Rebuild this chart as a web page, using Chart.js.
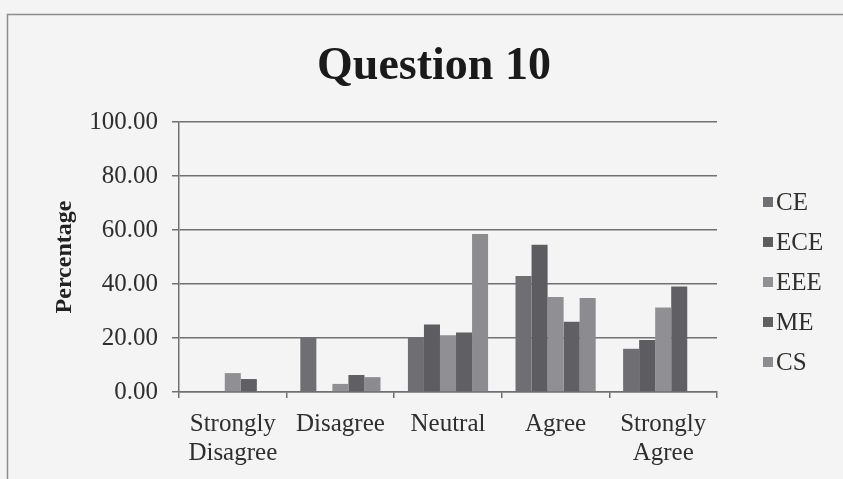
<!DOCTYPE html>
<html><head><meta charset="utf-8">
<script src="https://cdn.jsdelivr.net/npm/chart.js@4.4.1/dist/chart.umd.min.js"></script>
<style>html,body{margin:0;padding:0;background:#f4f4f5;overflow:hidden}</style>
</head><body><canvas id="c" width="843" height="479"></canvas>
<script>
const chartTitle = 'Question 10';
const yAxisTitle = 'Percentage';
const categories = [['Strongly', 'Disagree'], 'Disagree', 'Neutral', 'Agree', ['Strongly', 'Agree']];
const seriesNames = ['CE', 'ECE', 'EEE', 'ME', 'CS'];
const ceValues  = [0, 20, 20, 43, 16];
const eceValues = [0, 0, 25, 54.5, 19.3];
const eeeValues = [7, 3, 21, 35.2, 31.3];
const meValues  = [4.8, 6.3, 22, 26, 39.1];
const csValues  = [0, 5.5, 58.5, 34.8, 0];
const yTicks = [0, 20, 40, 60, 80, 100];

const seriesValues = [ceValues, eceValues, eeeValues, meValues, csValues];
const seriesColors = ['#6e6e73', '#5c5c61', '#8f8f94', '#5f5f64', '#8b8b90'];
const FONT = '"Liberation Serif", "Times New Roman", serif';

const decor = {
  id: 'decor',
  beforeDraw(chart) {
    const ctx = chart.ctx;
    ctx.save();
    ctx.fillStyle = '#f4f4f5';
    ctx.fillRect(0, 0, chart.width, chart.height);
    ctx.strokeStyle = '#8c8c8c';
    ctx.lineWidth = 1.5;
    ctx.strokeRect(7.5, 14.5, 900, 600);
    ctx.restore();
  },
  afterDraw(chart) {
    const ctx = chart.ctx;
    ctx.save();
    ctx.fillStyle = '#1a1a1a';
    ctx.font = 'bold 46px ' + FONT;
    ctx.textAlign = 'center';
    ctx.textBaseline = 'alphabetic';
    ctx.fillText(chartTitle, 434, 79);
    // legend
    ctx.font = '25px ' + FONT;
    ctx.textAlign = 'left';
    ctx.textBaseline = 'middle';
    chart.data.datasets.forEach((ds, i) => {
      const y = 202 + i * 40;
      ctx.fillStyle = ds.backgroundColor;
      ctx.fillRect(763, y - 5, 10, 10);
      ctx.fillStyle = '#2e2e2e';
      ctx.fillText(ds.label, 776, y + 1);
    });
    ctx.restore();
  }
};

new Chart(document.getElementById('c'), {
  type: 'bar',
  data: {
    labels: categories,
    datasets: seriesNames.map((n, i) => ({
      label: n,
      data: seriesValues[i],
      backgroundColor: seriesColors[i],
      borderWidth: 0,
      barPercentage: 1,
      categoryPercentage: 0.745
    }))
  },
  options: {
    responsive: false,
    animation: false,
    devicePixelRatio: 1,
    layout: { padding: { left: 0, right: 126, top: 122, bottom: 0 } },
    plugins: { legend: { display: false }, title: { display: false }, tooltip: { enabled: false } },
    scales: {
      x: {
        grid: { display: true, drawOnChartArea: false, drawTicks: true, tickLength: 6, color: '#707070', lineWidth: 1.5, offset: true },
        border: { display: true, color: '#707070', width: 1.5 },
        ticks: { font: { family: FONT, size: 25, lineHeight: 1.15 }, color: '#2e2e2e', padding: 12, maxRotation: 0, autoSkip: false },
        afterFit(s) { s.height = 87; }
      },
      y: {
        min: 0, max: 100,
        afterBuildTicks(s) { s.ticks = yTicks.map(v => ({ value: v })); },
        ticks: { callback: v => Number(v).toFixed(2), font: { family: FONT, size: 25 }, color: '#2e2e2e', padding: 14 },
        grid: { color: '#707070', lineWidth: 1.5, tickLength: 7, drawTicks: true },
        border: { display: true, color: '#707070', width: 1.5 },
        title: { display: true, text: yAxisTitle, font: { family: FONT, size: 24, weight: 'bold' }, color: '#222222', padding: { top: 50, bottom: 0 } },
        afterFit(s) { s.width = 179; }
      }
    }
  },
  plugins: [decor]
});
</script>
</body></html>
